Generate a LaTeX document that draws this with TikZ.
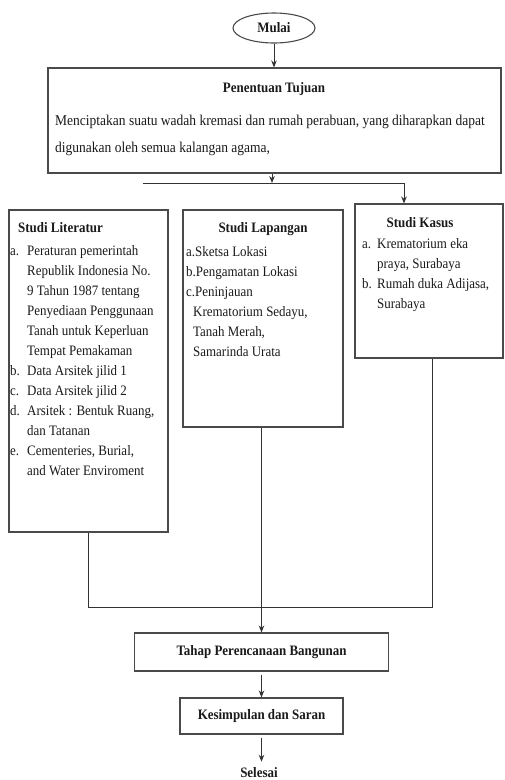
\documentclass[tikz,border=0pt]{standalone}
\usepackage{fontspec}
\setmainfont{Liberation Serif}[FakeStretch=0.9]
\usetikzlibrary{shapes.geometric,arrows.meta}
\definecolor{linec}{HTML}{4A4A4A}
\definecolor{connc}{HTML}{333333}
\definecolor{txt}{HTML}{1A1A1A}
\begin{document}
\begin{tikzpicture}[x=1pt,y=-1pt,
  box/.style={draw=linec,line width=1.1pt,rectangle,inner sep=0pt,fill=white},
  conn/.style={draw=connc,line width=0.9pt},
  arr/.style={conn,-{Stealth[length=7pt,width=5.5pt]}},
  ttl/.style={font=\fontsize{14.4}{16}\selectfont\bfseries,text=txt,inner sep=0pt},
  bodyt/.style={font=\fontsize{15}{16}\selectfont,text=txt,inner sep=0pt,anchor=base west},
  lst/.style={font=\fontsize{14.4}{20}\selectfont,text=txt,inner sep=0pt,align=left,anchor=north west},
]
\useasboundingbox (0,0) rectangle (505,780);

% start
\node[box,ellipse,minimum width=82pt,minimum height=30pt,font=\fontsize{14.4}{16}\selectfont\bfseries,text=txt] (mulai) at (274,28) {Mulai};

% Penentuan Tujuan
\node[box,minimum width=453pt,minimum height=105pt] (tujuan) at (274.5,120.5) {};
\node[ttl,anchor=base] (tujuant) at (274,92) {Penentuan Tujuan};
\node[bodyt] (tb1) at (55,125) {Menciptakan suatu wadah kremasi dan rumah perabuan, yang diharapkan dapat};
\node[bodyt] (tb2) at (55,152) {digunakan oleh semua kalangan agama,};

% Studi Literatur
\node[box,minimum width=159pt,minimum height=322pt] (lit) at (88.5,371) {};
\node[ttl,anchor=base west] (litt) at (18,232) {Studi Literatur};
\node[lst] (litl) at (10,245) {\makebox[17pt][l]{a.}Peraturan pemerintah\\
\hspace*{17pt}Republik Indonesia No.\\
\hspace*{17pt}9 Tahun 1987 tentang\\
\hspace*{17pt}Penyediaan Penggunaan\\
\hspace*{17pt}Tanah untuk Keperluan\\
\hspace*{17pt}Tempat Pemakaman\\
\makebox[17pt][l]{b.}Data Arsitek jilid 1\\
\makebox[17pt][l]{c.}Data Arsitek jilid 2\\
\makebox[17pt][l]{d.}Arsitek : Bentuk Ruang,\\
\hspace*{17pt}dan Tatanan\\
\makebox[17pt][l]{e.}Cementeries, Burial,\\
\hspace*{17pt}and Water Enviroment};

% Studi Lapangan
\node[box,minimum width=160pt,minimum height=217pt] (lap) at (263,318.5) {};
\node[ttl,anchor=base] (lapt) at (263,232) {Studi Lapangan};
\node[lst] (lapl) at (186,246) {a.Sketsa Lokasi\\
b.Pengamatan Lokasi\\
c.Peninjauan\\
\hspace*{7pt}Krematorium Sedayu,\\
\hspace*{7pt}Tanah Merah,\\
\hspace*{7pt}Samarinda Urata};

% Studi Kasus
\node[box,minimum width=148pt,minimum height=154pt] (kasus) at (429,281) {};
\node[ttl,anchor=base] (kasust) at (420,227) {Studi Kasus};
\node[lst] (kasusl) at (362,238) {\makebox[15pt][l]{a.}Krematorium eka\\
\hspace*{15pt}praya, Surabaya\\
\makebox[15pt][l]{b.}Rumah duka Adijasa,\\
\hspace*{15pt}Surabaya};

% lower chain
\node[box,minimum width=254pt,minimum height=38pt,font=\fontsize{14.4}{16}\selectfont\bfseries,text=txt] (tahap) at (261.5,652) {Tahap Perencanaan Bangunan};
\node[box,minimum width=163pt,minimum height=36pt,font=\fontsize{14.4}{16}\selectfont\bfseries,text=txt] (kes) at (261.5,716) {Kesimpulan dan Saran};
\node[ttl] (selesai) at (259,773) {Selesai};

% junction points
\coordinate (j) at (272,183);
\coordinate (hl) at (143,183);
\coordinate (hr) at (404,183);
\coordinate (bl) at (88.5,607);
\coordinate (br) at (432,607);

% connectors
\draw[arr] (mulai.south) -- (mulai.south |- tujuan.north);
\draw[arr] (j |- tujuan.south) -- (j);
\draw[conn] (hl) -- (hr);
\draw[arr] (hr) -- (hr |- kasus.north);
\draw[conn] (lit.south) -- (bl) -- (br) -- (br |- kasus.south);
\draw[arr] (tahap.north |- lap.south) -- (tahap.north);
\draw[arr,shorten <=3pt] (tahap.south) -- (kes.north);
\draw[arr,shorten <=3pt,shorten >=6pt] (kes.south) -- (kes.south |- selesai.north);
\end{tikzpicture}
\end{document}
